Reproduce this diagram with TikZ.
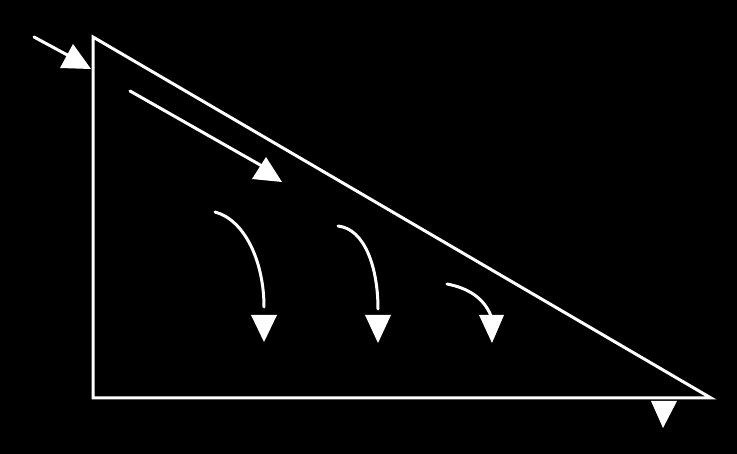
\documentclass[tikz,border=0pt]{standalone}
\begin{document}
\begin{tikzpicture}[x=1pt,y=-1pt,
  ln/.style={draw=white,line width=3pt,line cap=round},
  head/.style={fill=white,draw=none}]
\fill[black] (0,0) rectangle (737,454);
\useasboundingbox (0,0) rectangle (737,454);
% triangle
\draw[ln,line cap=butt,line join=miter] (93,37) -- (93,398) -- (711,398) -- cycle;
% incoming arrow
\draw[ln] (34,37) -- (84,64);
\fill[head] (73,44) -- (60,68) -- (91,69) -- cycle;
% inner straight arrow
\draw[ln] (130,91) -- (262,166);
\fill[head] (266,157) -- (252,179) -- (282,182) -- cycle;
% curved arrows
\draw[ln] (215,212) .. controls (245,220) and (264,262) .. (264,307);
\fill[head] (251,315) -- (277,315) -- (264,342) -- cycle;
\draw[ln] (338,226) .. controls (365,229) and (378,268) .. (378,309);
\fill[head] (365,315) -- (391,315) -- (378,343) -- cycle;
\draw[ln] (447,284) .. controls (468,288) and (484,298) .. (491,316);
\fill[head] (479,315) -- (504,315) -- (492,343) -- cycle;
% bottom arrowhead
\fill[head] (651,401) -- (677,401) -- (663,428) -- cycle;
\end{tikzpicture}
\end{document}
